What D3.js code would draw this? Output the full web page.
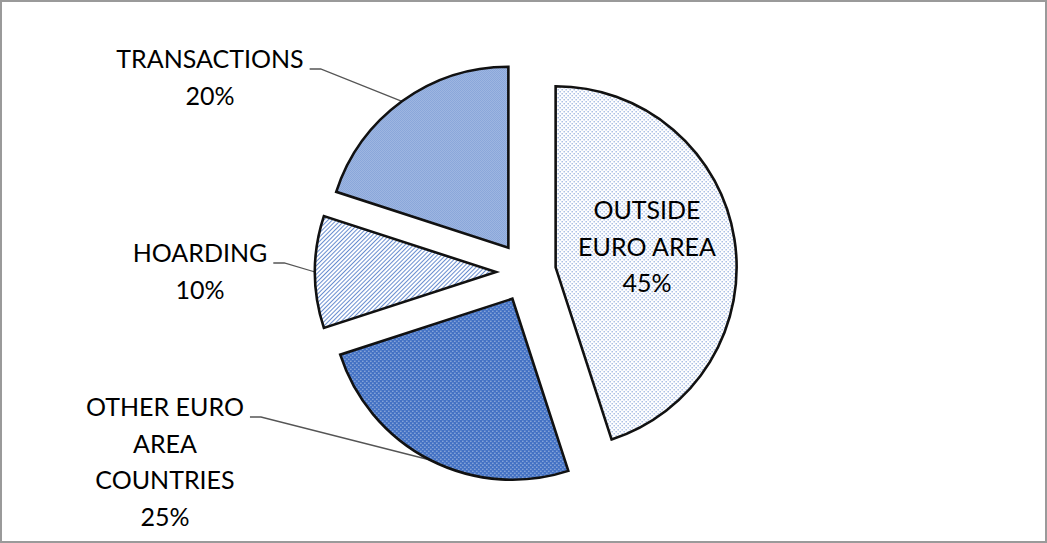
<!DOCTYPE html>
<html>
<head>
<meta charset="utf-8">
<script src="https://cdn.jsdelivr.net/npm/d3@7"></script>
<style>
  body { margin: 0; background: #fff; }
  svg { display: block; }
  text { font-family: Lato, "Open Sans", sans-serif; fill: #000; }
</style>
</head>
<body>
<svg id="chart" width="1047" height="543"></svg>
<script>
// Where euro banknotes are held (share of circulation, %)
const categories = ["OUTSIDE EURO AREA", "OTHER EURO AREA COUNTRIES", "HOARDING", "TRANSACTIONS"];
const shares = [45, 25, 10, 20];
const labelLines = [["OUTSIDE", "EURO AREA"], ["OTHER EURO", "AREA", "COUNTRIES"], ["HOARDING"], ["TRANSACTIONS"]];

// Layout
const W = 1047, H = 543;
const cx = 526, cy = 272, R = 181, explode = 30;
const fontSize = 25, lineH = 36.7;
const blue = "#4472C4";
// label anchor (centre x, first baseline y) and whether the label sits inside its slice
const labelPos = [
  { x: 647, y: 219, inside: true },
  { x: 165, y: 416 },
  { x: 200, y: 262 },
  { x: 210, y: 68 }
];
const fills = ["pDots", "pDenseDots", "pHatch", "pChecker"];

const svg = d3.select("#chart");

// chart area border
svg.append("rect")
  .attr("x", 1).attr("y", 1).attr("width", W - 2).attr("height", H - 2)
  .attr("fill", "#fff").attr("stroke", "#9a9a9a").attr("stroke-width", 2);

// fill patterns
const defs = svg.append("defs");
// sparse blue dots on white
const p1 = defs.append("pattern").attr("id", "pDots").attr("patternUnits", "userSpaceOnUse")
  .attr("width", 4).attr("height", 4);
p1.append("rect").attr("width", 4).attr("height", 4).attr("fill", "#fff");
p1.append("rect").attr("x", 0).attr("y", 0).attr("width", 1).attr("height", 1).attr("fill", blue);
p1.append("rect").attr("x", 2).attr("y", 2).attr("width", 1).attr("height", 1).attr("fill", blue);
// solid blue with small white dots
const p2 = defs.append("pattern").attr("id", "pDenseDots").attr("patternUnits", "userSpaceOnUse")
  .attr("width", 4).attr("height", 4);
p2.append("rect").attr("width", 4).attr("height", 4).attr("fill", blue);
p2.append("rect").attr("x", 0).attr("y", 0).attr("width", 1).attr("height", 1).attr("fill", "#fff").attr("opacity", 0.75);
p2.append("rect").attr("x", 2).attr("y", 2).attr("width", 1).attr("height", 1).attr("fill", "#fff").attr("opacity", 0.75);
// upward diagonal hatch
const p3 = defs.append("pattern").attr("id", "pHatch").attr("patternUnits", "userSpaceOnUse")
  .attr("width", 3).attr("height", 3).attr("patternTransform", "rotate(45)");
p3.append("rect").attr("width", 3).attr("height", 3).attr("fill", "#fff");
p3.append("rect").attr("x", 0).attr("y", 0).attr("width", 1).attr("height", 3).attr("fill", blue).attr("opacity", 0.8);
// fine checkerboard
const p4 = defs.append("pattern").attr("id", "pChecker").attr("patternUnits", "userSpaceOnUse")
  .attr("width", 2).attr("height", 2);
p4.append("rect").attr("width", 2).attr("height", 2).attr("fill", "#e4ebf7");
p4.append("rect").attr("x", 0).attr("y", 0).attr("width", 1).attr("height", 1).attr("fill", blue);
p4.append("rect").attr("x", 1).attr("y", 1).attr("width", 1).attr("height", 1).attr("fill", blue);

const data = categories.map((c, i) => ({ name: c, value: shares[i], lines: labelLines[i], pos: labelPos[i], fill: fills[i] }));

const pie = d3.pie().sort(null).value(d => d.value).startAngle(0).endAngle(2 * Math.PI);
const arcs = pie(data);
const arc = d3.arc().innerRadius(0).outerRadius(R);

const offset = a => {
  const m = (a.startAngle + a.endAngle) / 2;
  return [Math.sin(m) * explode, -Math.cos(m) * explode];
};

const g = svg.append("g").attr("transform", `translate(${cx},${cy})`);

g.selectAll("path.slice").data(arcs).enter().append("path")
  .attr("class", "slice")
  .attr("transform", d => { const o = offset(d); return `translate(${o[0]},${o[1]})`; })
  .attr("d", arc)
  .attr("fill", d => `url(#${d.data.fill})`)
  .attr("stroke", "#111").attr("stroke-width", 2.6).attr("stroke-linejoin", "miter");

// data labels
arcs.forEach(d => {
  const p = d.data.pos;
  const t = svg.append("text")
    .attr("text-anchor", "middle")
    .attr("font-size", fontSize);
  const rows = d.data.lines.concat([d.data.value + "%"]);
  rows.forEach((r, i) => {
    t.append("tspan").attr("x", p.x).attr("y", p.y + i * lineH).text(r);
  });
  if (!p.inside) {
    // leader from the end of the first line to the slice rim
    const first = t.select("tspan").node();
    const w = first.getComputedTextLength();
    const x0 = p.x + w / 2 + 6, y0 = p.y + 1;
    const m = (d.startAngle + d.endAngle) / 2;
    const o = offset(d);
    const ex = cx + o[0] + Math.sin(m) * R, ey = cy + o[1] - Math.cos(m) * R;
    svg.insert("path", "g")
      .attr("d", `M${x0},${y0}H${x0 + 11}L${ex},${ey}`)
      .attr("fill", "none").attr("stroke", "#555").attr("stroke-width", 1.3);
  }
});
</script>
</body>
</html>
